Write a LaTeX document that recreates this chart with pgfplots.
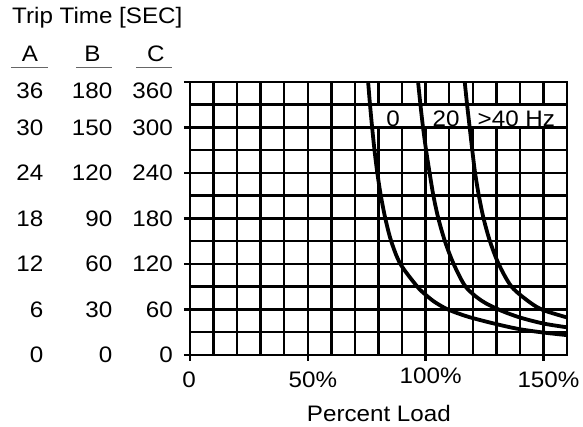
\documentclass[border=0pt]{standalone}
\usepackage{fontspec}
\setmainfont[FakeStretch=1.08]{Liberation Sans}
\usepackage{pgfplots}
\pgfplotsset{compat=1.18}
\newcommand{\yl}[3]{\makebox[0pt][r]{#1}\makebox[69pt][r]{#2}\makebox[60.5pt][r]{#3}}
\begin{document}
\begin{tikzpicture}[font=\fontsize{22.4}{26}\selectfont]
\useasboundingbox (-190pt,-72pt) rectangle (393pt,355pt);
\begin{axis}[
  at={(0pt,0pt)}, anchor=south west,
  scale only axis, width=377pt, height=273pt,
  xmin=0, xmax=160, ymin=0, ymax=360,
  xtick={0,50,100,150},
  xticklabels={\hspace{-12pt}0, 50\%, \raisebox{4pt}{100\%}, 150\%},
  minor xtick={10,20,30,40,60,70,80,90,110,120,130,140},
  ytick={0,60,...,300},
  yticklabels={\yl{0}{0}{0}, \yl{6}{30}{60}, \yl{12}{60}{120}, \yl{18}{90}{180}, \yl{24}{120}{240}, \yl{30}{150}{300}},
  minor ytick={30,90,...,330},
  extra y ticks={360},
  extra y tick labels={\yl{36}{180}{360}},
  extra y tick style={yticklabel style={yshift=-8.8pt}},
  grid=both,
  grid style={black, line width=2.5pt},
  minor grid style={black, line width=2.5pt},
  major grid style={black, line width=2.5pt},
  axis line style={black, line width=2.8pt},
  tick align=outside,
  tick pos=left,
  major tick length=6pt,
  minor tick length=0pt,
  every tick/.style={black, line width=2.5pt},
  xticklabel style={anchor=base, inner sep=0pt, yshift=-27pt, xshift=5pt},
  yticklabel style={anchor=east, inner sep=0pt, xshift=-11pt},
  xlabel={Percent Load},
  xlabel style={at={(axis description cs:0.501,0)}, anchor=base, inner sep=0pt, yshift=-66.5pt},
]
\fill[white] (axis cs:78.5,301.8) rectangle (axis cs:159.3,328.2);
\addplot[black, line width=3.8pt, smooth, tension=0.5] coordinates {
(75.6,360) (76.4,330) (77.3,300) (78.3,270) (79.5,240) (81.0,210) (82.9,180) (85.4,150) (89.3,120) (96.5,90) (99.8,80) (103.8,70) (109.5,60) (118.5,50) (131,40) (140,34) (150,29.6) (160,26.2)};
\addplot[black, line width=3.8pt, smooth, tension=0.5] coordinates {
(96.8,360) (97.8,330) (98.9,300) (100.2,270) (101.7,240) (103.3,210) (105.4,180) (108.2,150) (111.9,120) (117,90) (123.8,71.5) (131.6,59.1) (140.1,49.4) (150,41.5) (160,36.5)};
\addplot[black, line width=3.8pt, smooth, tension=0.5] coordinates {
(116.6,360) (117.6,330) (118.7,300) (119.8,270) (121.0,240) (122.6,210) (124.6,180) (127.3,150) (131,120) (136.5,90) (144.3,69.3) (150,59.1) (160,49.5)};
\node[anchor=base, inner sep=0pt] at (axis cs:86.2,301.2) {0};
\node[anchor=base, inner sep=0pt] at (axis cs:108.7,301.2) {20};
\node[anchor=base, inner sep=0pt] at (axis cs:138.5,301.2) {>40 Hz};
\end{axis}
\node[anchor=base west, inner sep=0pt] at (-178pt,331pt) {Trip Time [SEC]};
\node[anchor=base, inner sep=0pt] at (-160pt,293.3pt) {A};
\node[anchor=base, inner sep=0pt] at (-97.5pt,293.3pt) {B};
\node[anchor=base, inner sep=0pt] at (-34.2pt,293.3pt) {C};
\draw[black!60, line width=1pt] (-179pt,287.3pt) -- (-142pt,287.3pt);
\draw[black!60, line width=1pt] (-114pt,287.3pt) -- (-78pt,287.3pt);
\draw[black!60, line width=1pt] (-54pt,287.3pt) -- (-18pt,287.3pt);
\end{tikzpicture}
\end{document}
